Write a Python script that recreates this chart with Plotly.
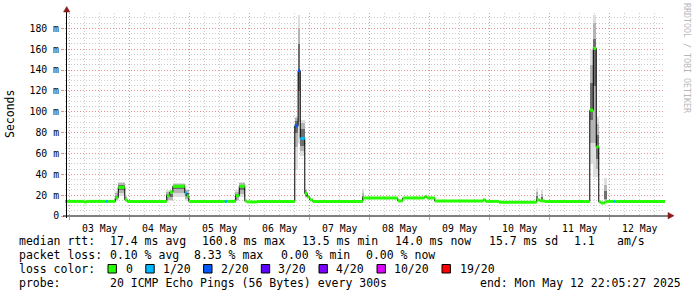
import plotly.graph_objects as go
import pandas as pd

START = "2025-05-02 22:05:27"
END = "2025-05-12 22:05:27"

# median rtt step breakpoints (start of each step), value in ms, loss class index
med_time = [
    "2025-05-02 22:05:27", "2025-05-03 05:36", "2025-05-03 06:48", "2025-05-03 14:24",
    "2025-05-03 15:12", "2025-05-03 18:12", "2025-05-03 19:24", "2025-05-03 22:00",
    "2025-05-03 23:00", "2025-05-04 14:48", "2025-05-04 16:00", "2025-05-04 17:12",
    "2025-05-04 22:00", "2025-05-04 22:48", "2025-05-04 23:36", "2025-05-05 14:00",
    "2025-05-05 15:00", "2025-05-05 18:24", "2025-05-05 19:48", "2025-05-05 22:00",
    "2025-05-05 22:48", "2025-05-06 03:12", "2025-05-06 18:00", "2025-05-06 19:20",
    "2025-05-06 20:12", "2025-05-06 22:00", "2025-05-06 23:00", "2025-05-07 00:00",
    "2025-05-07 01:12", "2025-05-07 21:12", "2025-05-08 11:12", "2025-05-08 13:12",
    "2025-05-08 22:00", "2025-05-08 22:48", "2025-05-09 02:00", "2025-05-09 21:24",
    "2025-05-09 22:24", "2025-05-10 03:42", "2025-05-10 18:48", "2025-05-10 20:00",
    "2025-05-10 22:00", "2025-05-11 16:00", "2025-05-11 17:24", "2025-05-11 18:36",
    "2025-05-11 19:36", "2025-05-11 20:24", "2025-05-11 22:00", "2025-05-11 22:48",
    "2025-05-12 01:36", "2025-05-12 02:24",
]
med_ms = [
    14.0, 13.5, 14.0, 14.0,
    14.0, 17.5, 27.5, 15.5,
    14.0, 19.5, 23.0, 28.5,
    22.0, 19.0, 14.0, 14.0,
    14.0, 19.5, 28.5, 14.5,
    13.5, 14.0, 86.5, 139.3,
    74.4, 21.5, 18.3, 15.5,
    14.0, 17.3, 14.5, 17.3,
    18.8, 17.3, 14.3, 15.5,
    14.0, 13.3, 15.5, 14.5,
    14.0, 101.5, 160.8, 66.3,
    13.5, 12.5, 13.5, 14.0,
    14.0, 14.0,
]
med_loss = [
    0, 0, 0, 1,
    0, 0, 0, 0,
    0, 0, 0, 0,
    1, 0, 0, 1,
    0, 0, 0, 0,
    0, 0, 2, 2,
    1, 0, 0, 0,
    0, 0, 0, 0,
    0, 0, 0, 0,
    0, 0, 0, 0,
    0, 0, 0, 0,
    0, 0, 0, 0,
    1, 0,
]

# smoke (ping spread) per step: start, end, min, max, middle band, inner band (ms)
smoke_start = [
    "2025-05-03 18:00", "2025-05-03 19:24", "2025-05-03 22:00", "2025-05-04 14:30",
    "2025-05-04 17:12", "2025-05-04 22:00", "2025-05-05 18:00", "2025-05-05 19:48",
    "2025-05-06 18:00", "2025-05-06 19:20", "2025-05-06 20:12", "2025-05-06 22:00",
    "2025-05-07 20:48", "2025-05-10 18:24", "2025-05-10 20:24", "2025-05-11 16:00",
    "2025-05-11 17:24", "2025-05-11 18:36", "2025-05-11 21:36",
]
smoke_end = [
    "2025-05-03 19:24", "2025-05-03 22:00", "2025-05-03 23:00", "2025-05-04 17:12",
    "2025-05-04 22:00", "2025-05-04 23:36", "2025-05-05 19:48", "2025-05-05 22:00",
    "2025-05-06 19:20", "2025-05-06 20:12", "2025-05-06 22:00", "2025-05-06 23:00",
    "2025-05-07 21:48", "2025-05-10 19:24", "2025-05-10 21:24", "2025-05-11 17:24",
    "2025-05-11 18:36", "2025-05-11 19:36", "2025-05-11 22:48",
]
smoke_lo = [14, 19, 13.5, 14, 18, 14, 14, 18, 44, 70, 58, 17, 14, 14, 14, 50, 37, 37, 14]
smoke_hi = [24, 33, 20, 25, 32, 26, 25, 33, 95, 193, 92, 26, 25.5, 27, 25, 159, 193, 95, 36]
smoke_mid_lo = [15, 22, 14, 15.5, 22, 16, 15.5, 21, 66, 90, 62, 18, 15, 14.5, 14.5, 70, 70, 45, 15]
smoke_mid_hi = [22, 31.5, 18.5, 23.5, 31, 24.5, 23.5, 32, 94, 180, 89, 24.5, 22, 23, 21, 145, 185, 88, 30]
smoke_in_lo = [16.5, 25, 14.5, 18, 26, 19, 18, 25, 80, 120, 67, 19.5, 16, 15, 15, 92, 125, 55, 16]
smoke_in_hi = [19.5, 29.5, 16.5, 21, 29.5, 22.5, 21, 30, 91, 165, 83, 23, 19, 19, 18, 128, 170, 78, 24]

loss_labels = ["0", "1/20", "2/20", "3/20", "4/20", "10/20", "19/20"]
loss_colors = ["#26ff00", "#00b8ff", "#0059ff", "#5e00ff", "#7e00ff", "#dd00ff", "#ff0000"]

y_ticks = [0, 20, 40, 60, 80, 100, 120, 140, 160, 180]
y_ticktext = ["0", "20 m", "40 m", "60 m", "80 m", "100 m", "120 m", "140 m", "160 m", "180 m"]

# legend text pieces: (x pixel, y pixel, text)
legend_chunks = [
    (16.5, 241, "median rtt:"), (108, 241, "17.4 ms avg"), (200, 241, "160.8 ms max"),
    (300.4, 241, "13.5 ms min"), (393, 241, "14.0 ms now"), (486.7, 241, "15.7 ms sd"),
    (572.4, 241, "1.1"), (614.7, 241, "am/s"),
    (16.5, 255, "packet loss:"), (108, 255, "0.10 % avg"), (192.4, 255, "8.33 % max"),
    (279, 255, "0.00 % min"), (364.4, 255, "0.00 % now"),
    (16.5, 269, "loss color:"),
    (16.5, 283, "probe:"), (108, 283, "20 ICMP Echo Pings (56 Bytes) every 300s"),
    (477.8, 283, "end: Mon May 12 22:05:27 2025"),
]
box_x = [108, 145.8, 203.6, 261.3, 319, 377, 442]
text_x = [123.6, 161, 218.7, 276.4, 334, 392.4, 457.8]

MONO = "DejaVu Sans Mono"
W, H = 697, 297
L, R, T, B = 65, 32, 13, 81
PW, PH = W - L - R, H - T - B


def fx(px):
    return (px - L) / PW


def fy(py):
    return (H - B - py) / PH


def to_dt(values):
    return pd.to_datetime(values, format="mixed")


fig = go.Figure()

# smoke
s0 = to_dt(smoke_start)
s1 = to_dt(smoke_end)
centers = s0 + (s1 - s0) / 2
widths = [(b - a).total_seconds() * 1000 for a, b in zip(s0, s1)]
for lo, hi, col in [(smoke_lo, smoke_hi, "#dedede"), (smoke_mid_lo, smoke_mid_hi, "#b4b4b4"),
                    (smoke_in_lo, smoke_in_hi, "#6e6e6e")]:
    fig.add_trace(go.Bar(
        x=centers, y=[h - l for h, l in zip(hi, lo)], base=lo, width=widths,
        marker=dict(color=col, line=dict(width=0)), hoverinfo="skip", showlegend=False))

# median as thin black step line
t_all = list(to_dt(med_time)) + [pd.Timestamp(END)]
v_all = med_ms + [med_ms[-1]]
fig.add_trace(go.Scatter(x=t_all, y=v_all, mode="lines", line=dict(color="black", width=1, shape="hv"),
                         hoverinfo="skip", showlegend=False))

# coloured median segments by loss class
for ci, col in enumerate(loss_colors):
    xs, ys = [], []
    for i in range(len(med_time)):
        if med_loss[i] == ci:
            xs += [t_all[i], t_all[i + 1], None]
            ys += [med_ms[i], med_ms[i], None]
    if xs:
        fig.add_trace(go.Scatter(x=xs, y=ys, mode="lines", line=dict(color=col, width=3),
                                 hoverinfo="skip", showlegend=False))

major = "#eb9090"
minor = "#cccccc"
fig.update_layout(
    width=W, height=H, margin=dict(l=L, r=R, t=T, b=B),
    paper_bgcolor="white", plot_bgcolor="white",
    barmode="overlay", bargap=0, showlegend=False,
    font=dict(family=MONO, size=10, color="black"),
    xaxis=dict(
        type="date", range=[START, END], tick0="2025-05-03", dtick=86400000,
        tickformat="%d %b", ticklabelmode="period",
        showgrid=True, gridcolor=major, griddash="1px,2px", gridwidth=1,
        ticks="outside", ticklen=3, tickcolor=major,
        minor=dict(dtick=6 * 3600000, showgrid=True, gridcolor=minor, griddash="1px,2px", ticks=""),
        showline=False, zeroline=False, tickfont=dict(family=MONO, size=9.8),
    ),
    yaxis=dict(
        range=[0, 194.7], tickvals=y_ticks, ticktext=y_ticktext,
        showgrid=True, gridcolor=major, griddash="1px,2px", gridwidth=1,
        ticks="outside", ticklen=3, tickcolor=major,
        minor=dict(dtick=5, showgrid=True, gridcolor=minor, griddash="1px,2px", ticks=""),
        showline=False, zeroline=False, tickfont=dict(family=MONO, size=9.8),
    ),
)

# axes lines and arrows
axis_col = "#8b1a1a"
fig.add_shape(type="line", xref="paper", yref="paper", x0=fx(63), x1=fx(668), y0=0, y1=0,
              line=dict(color="black", width=1))
fig.add_shape(type="line", xref="paper", yref="paper", x0=fx(66.5), x1=fx(66.5), y0=fy(218), y1=fy(11),
              line=dict(color="black", width=1))
fig.add_shape(type="path", xref="paper", yref="paper",
              path=f"M {fx(668)} {fy(212.5)} L {fx(674)} {fy(215.7)} L {fx(668)} {fy(218.9)} Z",
              fillcolor=axis_col, line=dict(color=axis_col, width=0.5))
fig.add_shape(type="path", xref="paper", yref="paper",
              path=f"M {fx(63.5)} {fy(12)} L {fx(66.7)} {fy(6.5)} L {fx(69.9)} {fy(12)} Z",
              fillcolor=axis_col, line=dict(color=axis_col, width=0.5))

# y title and watermark
fig.add_annotation(text="Seconds", xref="paper", yref="paper", x=fx(10), y=fy(114), textangle=-90,
                   showarrow=False, font=dict(family=MONO, size=11.5), xanchor="center", yanchor="middle")
fig.add_annotation(text="RRDTOOL / TOBI OETIKER", xref="paper", yref="paper", x=fx(687), y=fy(58),
                   textangle=90, showarrow=False, font=dict(family=MONO, size=8.3, color="#b8b8b8"),
                   xanchor="center", yanchor="middle")

NB = "\u00a0"
for px, py, txt in legend_chunks:
    fig.add_annotation(text=txt.replace(" ", NB), xref="paper", yref="paper", x=fx(px), y=fy(py),
                       xanchor="left", yanchor="middle", showarrow=False, font=dict(family=MONO, size=11.5))

for bx, tx, lab, col in zip(box_x, text_x, loss_labels, loss_colors):
    fig.add_shape(type="rect", xref="paper", yref="paper", x0=fx(bx), x1=fx(bx + 8.4),
                  y0=fy(273), y1=fy(264.5), fillcolor=col, line=dict(color="black", width=1))
    fig.add_annotation(text=lab, xref="paper", yref="paper", x=fx(tx), y=fy(269), xanchor="left",
                       yanchor="middle", showarrow=False, font=dict(family=MONO, size=11.5))

fig.write_html("out.html")
